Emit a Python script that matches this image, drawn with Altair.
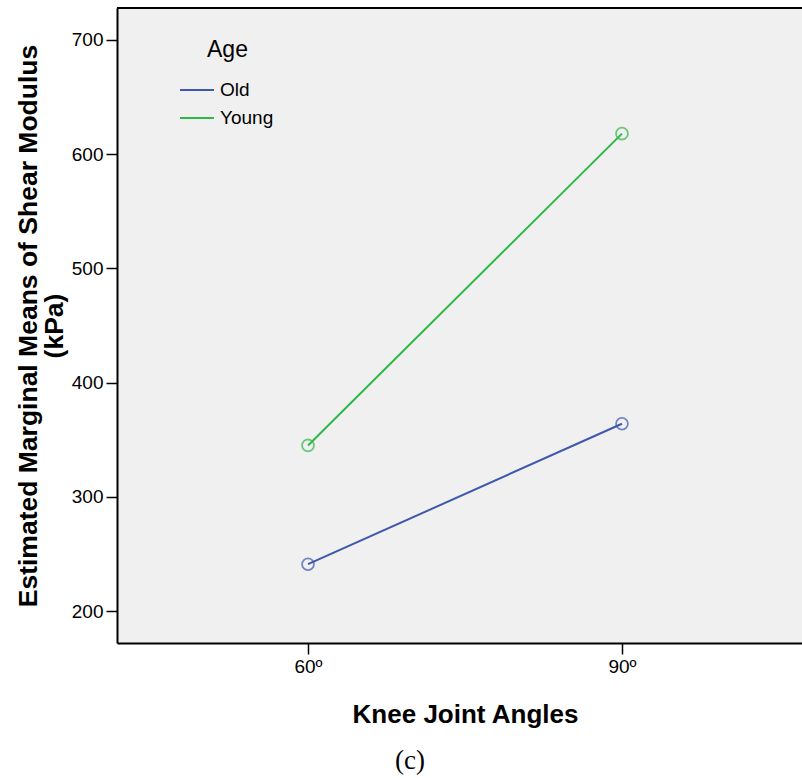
import altair as alt
import pandas as pd

# Estimated marginal means of shear modulus (kPa) by knee angle and age group
angles = [60, 90]
groups = ["Old", "Young"]
old_means = [241, 364]
young_means = [345, 618]
y_ticks = [200, 300, 400, 500, 600, 700]
colors = ["#3E58AC", "#2EB848"]

rows = []
for g, vals in zip(groups, [old_means, young_means]):
    for a, v in zip(angles, vals):
        rows.append({"angle": a, "Age": g, "mean": v})
df = pd.DataFrame(rows)

W, H = 685, 635
FONT = "Liberation Sans"

x_enc = alt.X(
    "angle:Q",
    scale=alt.Scale(domain=[41.75, 107.2], nice=False, zero=False),
    axis=alt.Axis(
        values=angles,
        labelExpr="datum.value + 'º'",
        title="Knee Joint Angles",
        titleFontSize=26,
        titleFontWeight="bold",
        titleX=348,
        titleY=58,
        titleBaseline="top",
        labelFontSize=19,
        labelPadding=3,
        tickSize=11,
        grid=False,
    ),
)
y_enc = alt.Y(
    "mean:Q",
    scale=alt.Scale(domain=[172, 728], nice=False, zero=False),
    axis=alt.Axis(
        values=y_ticks,
        title=["Estimated Marginal Means of Shear Modulus", "(kPa)"],
        titleFontSize=26.5,
        titleFontWeight="bold",
        titleLineHeight=26,
        titleX=-75,
        titleY=H / 2,
        titleBaseline="bottom",
        titleAnchor="middle",
        labelFontSize=19,
        labelPadding=3,
        tickSize=11,
        grid=False,
    ),
)
color_enc = alt.Color(
    "Age:N",
    scale=alt.Scale(domain=groups, range=colors),
    legend=alt.Legend(
        title=None,
        orient="none",
        legendX=62,
        legendY=64,
        symbolType="stroke",
        symbolSize=1156,
        symbolStrokeWidth=2,
        labelFontSize=19,
        labelOffset=5,
        rowPadding=-1,
    ),
)

base = alt.Chart(df)
lines = base.mark_line(strokeWidth=2).encode(x=x_enc, y=y_enc, color=color_enc, detail="Age:N")
points = base.mark_point(shape="circle", filled=False, size=140, strokeWidth=1.8).encode(
    x="angle:Q", y="mean:Q", color=alt.Color("Age:N", legend=None)
)

top_border = alt.Chart(df).mark_rule(color="black", strokeWidth=2).encode(
    x=alt.value(0), x2=alt.value(W), y=alt.value(0)
)
legend_title = alt.Chart(pd.DataFrame({"t": ["Age"]})).mark_text(
    font=FONT, fontSize=23, align="left", baseline="middle", color="black"
).encode(x=alt.value(90), y=alt.value(42), text="t:N")
caption = alt.Chart(pd.DataFrame({"t": ["(c)"]})).mark_text(
    font="Liberation Serif", fontSize=27, align="center", baseline="middle", color="black"
).encode(x=alt.value(293), y=alt.value(753), text="t:N")

chart = (
    alt.layer(lines, points, top_border, legend_title, caption)
    .properties(
        width=W,
        height=H,
        autosize=alt.AutoSizeParams(type="none"),
        padding={"left": 117, "top": 8, "right": 0, "bottom": 135},
        background="white",
    )
    .configure_view(fill="#F0F0F0", stroke=None)
    .configure_axis(
        labelFont=FONT,
        titleFont=FONT,
        labelColor="black",
        titleColor="black",
        domainColor="black",
        domainWidth=2,
        tickColor="black",
        tickWidth=1.5,
    )
    .configure_legend(labelFont=FONT, labelColor="black", padding=0)
)

chart.save("out.html", embed_options={"renderer": "svg", "actions": False})
